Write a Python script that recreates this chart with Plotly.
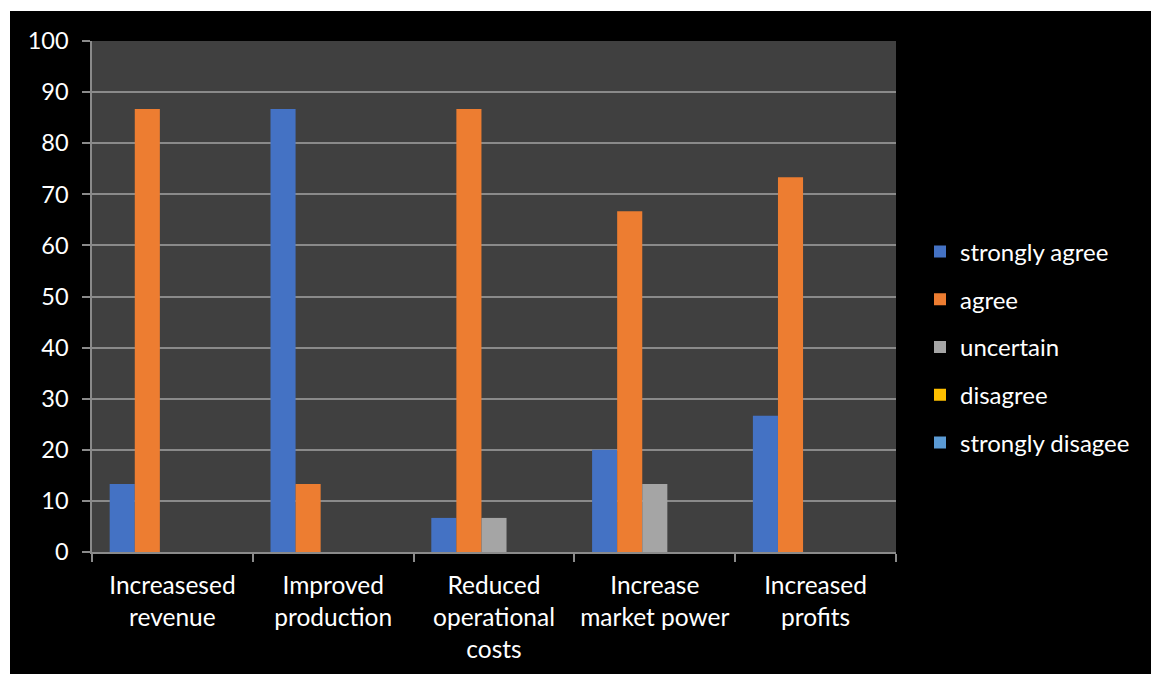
import plotly.graph_objects as go

categories = [
    "Increasesed<br>revenue",
    "Improved<br>production",
    "Reduced<br>operational<br>costs",
    "Increase<br>market power",
    "Increased<br>profits",
]
series_names = ["strongly agree", "agree", "uncertain", "disagree", "strongly disagee"]
strongly_agree = [13.33, 86.67, 6.67, 20.0, 26.67]
agree = [86.67, 13.33, 86.67, 66.67, 73.33]
uncertain = [0, 0, 6.67, 13.33, 0]
disagree = [0, 0, 0, 0, 0]
strongly_disagree = [0, 0, 0, 0, 0]
y_ticks = [0, 10, 20, 30, 40, 50, 60, 70, 80, 90, 100]

series_values = [strongly_agree, agree, uncertain, disagree, strongly_disagree]
colors = ["#4472C4", "#ED7D31", "#A5A5A5", "#FFC000", "#5B9BD5"]

FONT = "Lato"

fig = go.Figure()
for name, vals, col in zip(series_names, series_values, colors):
    fig.add_trace(go.Bar(
        x=categories, y=vals, name=name, legendgroup=name,
        marker=dict(color=col, line=dict(width=0)),
    ))

# plot area: x 92..896, y 41..552 in a 1151x674 page
W, H = 1151, 674
L, R, T, B = 92, 896, 41, 552
pw, ph = R - L, B - T

def px_x(p):
    return (p - L) / pw

def px_y(p):
    return (B - p) / ph

fig.update_layout(
    width=W, height=H,
    autosize=False,
    margin=dict(l=L, r=W - R, t=T, b=H - B, pad=0, autoexpand=False),
    paper_bgcolor="black",
    plot_bgcolor="#404040",
    barmode="group",
    bargap=0.22,
    bargroupgap=0,
    font=dict(family=FONT, color="white", size=24),
    showlegend=True,
    legend=dict(
        x=px_x(920), xanchor="left",
        y=px_y(347), yanchor="middle",
        font=dict(family=FONT, size=24, color="white"),
        tracegroupgap=13.5,
        traceorder="grouped",
        bgcolor="rgba(0,0,0,0)",
        borderwidth=0,
    ),
    shapes=[
        # white frame strips along the top and left edges
        dict(type="rect", xref="paper", yref="paper",
             x0=px_x(0), x1=px_x(W), y0=px_y(11), y1=px_y(0),
             fillcolor="white", line=dict(width=0), layer="above"),
        dict(type="rect", xref="paper", yref="paper",
             x0=px_x(0), x1=px_x(10), y0=px_y(H), y1=px_y(0),
             fillcolor="white", line=dict(width=0), layer="above"),
    ],
)

fig.update_xaxes(
    type="category",
    showgrid=False,
    showline=True, linecolor="#8a8a8a", linewidth=1.5,
    ticks="outside", tickson="boundaries", ticklen=8, tickcolor="#8a8a8a", tickwidth=1.5,
    tickfont=dict(family=FONT, size=24.5, color="white"),
    ticklabelstandoff=11,
    tickangle=0,
    automargin=False,
)
fig.update_yaxes(
    range=[0, 100],
    tickvals=y_ticks,
    showgrid=True, gridcolor="#8a8a8a", gridwidth=1.5,
    showline=True, linecolor="#8a8a8a", linewidth=1.5,
    ticks="outside", ticklen=8, tickcolor="#8a8a8a", tickwidth=1.5,
    tickfont=dict(family=FONT, size=23.5, color="white"),
    ticklabelstandoff=9,
    zeroline=False,
    automargin=False,
)

fig.write_html("out.html")
